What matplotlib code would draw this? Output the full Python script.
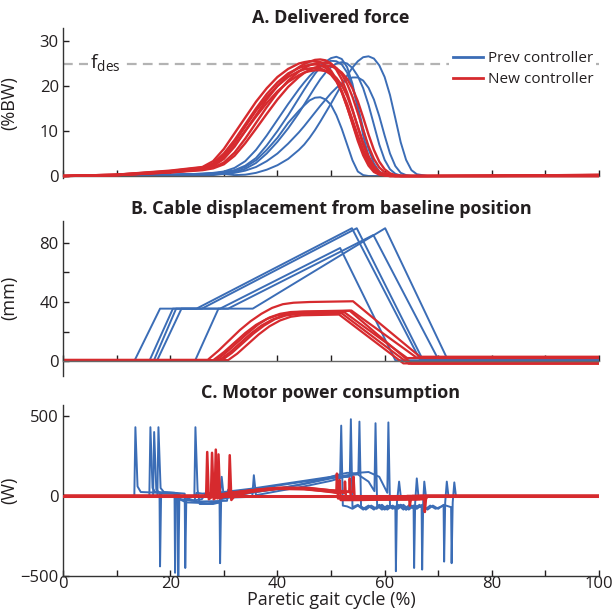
import numpy as np
import matplotlib.pyplot as plt

plt.rcParams['font.family'] = ['Open Sans', 'DejaVu Sans']
plt.rcParams['lines.scale_dashes'] = False

BLUE = '#3b6db6'
RED = '#d62a2e'
INK = '#231f20'

# ---- A. delivered force (%BW), sampled on a shared gait-cycle grid ----
gait_a = [0, 10, 20, 26, 28, 30, 32, 34, 36, 38, 40, 42, 44, 45, 46, 47, 48, 49, 50, 51,
          52, 53, 54, 55, 56, 57, 58, 59, 60, 61, 62, 63, 64, 65, 66, 68, 80, 100]

force_prev = [
    [0, 0.1, 0.3, 0.5, 0.6, 0.8, 1.2, 2.0, 3.5, 5.8, 8.5, 11.8, 14.5, 15.7, 16.8, 17.4, 17.5, 17.0, 15.8, 13.5,
     10.5, 7.0, 3.5, 1.0, 0.2, 0, 0, 0, 0, 0, 0, 0, 0, 0, 0, 0, 0, 0],
    [0, 0.1, 0.3, 0.5, 0.6, 0.8, 1.3, 2.3, 4.0, 6.8, 10.0, 13.5, 17.3, 19.2, 21.0, 22.7, 24.2, 25.4, 26.2, 26.5,
     26.0, 24.2, 20.5, 15.0, 9.0, 4.3, 1.5, 0.4, 0.1, 0, 0, 0, 0, 0, 0, 0, 0, 0],
    [0, 0.1, 0.3, 0.5, 0.7, 1.0, 1.8, 3.3, 5.8, 9.0, 12.5, 16.0, 19.3, 20.8, 22.2, 23.4, 24.5, 25.2, 25.6, 25.5,
     24.8, 23.0, 19.8, 15.5, 10.5, 6.0, 2.8, 1.0, 0.3, 0, 0, 0, 0, 0, 0, 0, 0, 0],
    [0, 0.1, 0.2, 0.4, 0.5, 0.6, 0.9, 1.6, 2.9, 5.0, 7.6, 10.6, 14.0, 15.9, 17.8, 19.7, 21.5, 23.0, 24.2, 25.0,
     25.3, 25.0, 24.0, 22.2, 19.5, 15.8, 11.4, 7.0, 3.6, 1.5, 0.5, 0.1, 0, 0, 0, 0, 0, 0],
    [0, 0.1, 0.2, 0.3, 0.4, 0.5, 0.7, 1.2, 2.0, 3.3, 5.0, 7.2, 9.7, 11.1, 12.6, 14.1, 15.6, 17.0, 18.4, 19.6,
     20.6, 21.4, 21.9, 21.9, 21.2, 19.6, 17.0, 13.3, 9.0, 5.0, 2.2, 0.7, 0.2, 0, 0, 0, 0, 0],
    [0, 0.1, 0.2, 0.2, 0.2, 0.5, 0.2, 0.3, 0.7, 1.4, 2.4, 3.8, 5.8, 7.0, 8.5, 10.2, 12.1, 14.1, 16.1, 18.2,
     20.3, 22.3, 24.1, 25.5, 26.4, 26.6, 26.1, 24.6, 22.0, 18.0, 12.8, 7.5, 3.6, 1.3, 0.4, 0, 0, 0],
]

force_new = [
    [0, 0.3, 1.0, 1.8, 2.8, 5.0, 8.0, 11.5, 15.0, 18.2, 20.8, 22.8, 24.0, 24.4, 24.7, 24.8, 24.6, 24.0, 23.0, 21.2,
     18.6, 15.3, 11.8, 8.3, 5.2, 2.8, 1.3, 0.5, 0.2, 0, 0, 0, 0, 0, 0, 0, 0.1, 0.2],
    [0, 0.2, 0.9, 1.6, 2.2, 3.8, 6.5, 10.0, 13.5, 17.0, 20.0, 22.5, 24.2, 24.9, 25.4, 25.8, 25.9, 25.7, 25.0, 23.6,
     21.5, 18.5, 14.8, 10.8, 7.0, 4.0, 2.0, 0.8, 0.3, 0.1, 0, 0, 0, 0, 0, 0, 0, 0.3],
    [0, 0.2, 0.8, 1.5, 2.5, 4.5, 7.5, 11.0, 14.5, 17.5, 20.0, 22.0, 23.3, 23.7, 23.9, 24.0, 23.9, 23.4, 22.5, 21.0,
     18.8, 16.0, 12.5, 9.0, 5.8, 3.2, 1.5, 0.6, 0.2, 0, 0, 0, 0, 0, 0, 0, 0, 0],
    [0, 0.2, 0.9, 1.4, 1.9, 3.0, 5.2, 8.3, 11.8, 15.3, 18.5, 21.2, 23.2, 24.0, 24.6, 25.0, 25.2, 25.2, 24.9, 24.0,
     22.6, 20.5, 17.6, 14.0, 10.2, 6.6, 3.8, 1.9, 0.8, 0.3, 0.1, 0, 0, 0, 0, 0, 0.1, 0.2],
    [0, 0.3, 1.1, 1.9, 2.6, 4.2, 6.8, 10.0, 13.2, 16.2, 18.8, 20.9, 22.4, 23.0, 23.3, 23.5, 23.5, 23.3, 22.8, 21.8,
     20.2, 17.8, 14.6, 11.0, 7.4, 4.4, 2.2, 0.9, 0.3, 0.1, 0, 0, 0, 0, 0, 0, 0, 0],
    [0, 0.3, 1.2, 2.0, 3.3, 6.0, 9.5, 13.0, 16.5, 19.5, 22.0, 23.8, 25.0, 25.3, 25.5, 25.5, 25.3, 24.6, 23.4, 21.5,
     18.8, 15.4, 11.6, 7.8, 4.6, 2.3, 0.9, 0.3, 0.1, 0, 0, 0, 0, 0, 0, 0, 0, 0.1],
    [0, 0.2, 0.8, 1.3, 1.7, 2.6, 4.5, 7.3, 10.5, 13.8, 17.0, 19.8, 22.0, 22.9, 23.6, 24.1, 24.4, 24.5, 24.4, 23.9,
     23.0, 21.6, 19.5, 16.6, 13.0, 9.2, 5.8, 3.2, 1.5, 0.6, 0.2, 0, 0, 0, 0, 0, 0, 0],
]
f_des = 25

# ---- B. cable displacement (mm), (gait %, mm) breakpoints ----
disp_prev = [
    [(0, 0), (13.3, 0), (18.1, 35.5), (24.9, 35.5), (53.9, 90), (66.6, 0.8), (100, 0.8)],
    [(0, 0), (16.1, 0), (20.5, 35.5), (25.9, 35.5), (54.8, 90), (67.2, 0.3), (100, 0.3)],
    [(0, 0), (16.9, 0), (21.1, 35.5), (29.3, 35.5), (51.7, 76.6), (62.0, 0.5), (100, 0.5)],
    [(0, 0), (17.5, 0), (22.1, 35.5), (30.8, 35.5), (57.9, 85.4), (70.0, 1.2), (100, 1.2)],
    [(0, 0), (24.6, 0), (29.0, 35.5), (35.4, 35.5), (60.1, 90), (71.8, 0.6), (100, 0.6)],
]
disp_new = [
    [(0, 0.8), (27.0, 0.8), (29, 7), (31, 14), (33, 21), (35, 27), (37, 32), (39, 36), (41, 38.5),
     (43, 39.5), (46, 40), (54.1, 40.5), (66.6, 2.9), (100, 2.9)],
    [(0, 0.5), (28.0, 0.5), (30, 6), (32, 12.5), (34, 19), (36, 24.5), (38, 28.5), (40, 31), (42, 32.5),
     (44, 33.2), (52, 33.8), (53.5, 34), (65.0, -1.6), (100, -1.6)],
    [(0, 0.3), (29.0, 0.3), (31, 5.5), (33, 12), (35, 18.5), (37, 24), (39, 28), (41, 30.8), (43, 32.2),
     (45, 32.8), (52.5, 33), (64.2, 2.0), (100, 2.0)],
    [(0, 0.6), (30.8, 0.6), (32.5, 5), (34.5, 11.5), (36.5, 18), (38.5, 23.5), (40.5, 27.5), (42.5, 30),
     (44.5, 31), (51.5, 31.5), (63.5, -1.6), (100, -1.6)],
    [(0, 0.4), (28.5, 0.4), (30.5, 6), (32.5, 12.5), (34.5, 19), (36.5, 25), (38.5, 29.5), (40.5, 32),
     (42.5, 33.2), (45, 33.6), (53.8, 34.2), (66.0, 2.2), (100, 2.2)],
    [(0, 0.2), (29.5, 0.2), (31.5, 5.5), (33.5, 12), (35.5, 18.5), (37.5, 24), (39.5, 28.3), (41.5, 30.8),
     (43.5, 31.8), (46, 32.2), (52.0, 32.3), (64.5, -1.8), (100, -1.8)],
]

# ---- C. motor power (W), (gait %, W) breakpoints ----
power_prev = [
    [(0, 0), (13.3, 0), (13.5, 430), (13.9, 60), (14.5, 25), (18.0, 20), (18.1, -440), (18.3, 15), (21, 15),
     (24.5, -30), (24.9, 20), (26, 15), (30, 25), (35, 45), (40, 70), (45, 95), (50, 120), (51.7, 130),
     (51.9, 440), (52.2, -60), (53, -65), (54, -80), (55, -60), (56, -85), (57, -65), (58, -80), (59, -60),
     (60, -85), (61, -65), (62.0, -70), (62.1, -470), (62.3, -40), (62.7, 90), (63.0, 0), (100, 0)],
    [(0, 0), (16.1, 0), (16.3, 430), (16.7, 50), (17.2, 25), (20.8, 20), (20.9, -480), (21.1, 10), (22, -20),
     (24, -30), (25.9, -20), (26.5, 10), (30, 20), (35, 40), (40, 65), (45, 90), (50, 115), (53.5, 120),
     (53.7, 480), (54, -70), (55, -55), (56, -80), (57, -60), (58, -85), (59, -55), (60, -80), (61, -60),
     (62, -75), (63, -55), (64, -85), (65.4, -60), (65.5, -450), (65.7, -40), (66.0, 110), (66.3, 0), (100, 0)],
    [(0, 0), (16.8, 0), (17.0, 400), (17.4, 40), (18, 20), (21.4, 15), (21.5, -510), (21.7, -20), (23, -40),
     (27, -45), (29.2, -40), (29.6, 120), (30, -10), (33, 10), (36, 25), (40, 45), (44, 70), (48, 100),
     (51, 130), (53, 145), (55.1, 140), (55.3, 465), (55.6, -65), (56.5, -85), (57.5, -60), (58.5, -80),
     (59.5, -55), (60.5, -85), (61.5, -60), (62.5, -80), (63.5, -55), (64.5, -85), (65.5, -60), (66.9, -70),
     (67.0, -460), (67.2, -30), (67.4, 90), (67.7, 0), (100, 0)],
    [(0, 0), (17.6, 0), (17.8, 430), (18.2, 50), (18.8, 25), (22.7, 15), (22.8, -450), (23.0, -20), (25, -35),
     (30.6, -30), (30.8, 40), (31.2, 0), (35, 20), (40, 45), (45, 75), (50, 110), (53, 130), (55, 135),
     (57, 90), (58.1, 30), (58.3, 455), (58.6, -60), (59.5, -85), (60.5, -60), (61.5, -80), (62.5, -55),
     (63.5, -85), (64.5, -60), (65.5, -80), (66.5, -55), (67.5, -85), (68.5, -60), (69.5, -80), (71.0, -60),
     (71.1, -410), (71.3, -40), (71.6, 90), (71.9, 0), (100, 0)],
    [(0, 0), (24.5, 0), (24.7, 430), (25.1, 40), (25.5, -50), (28, -50), (29.2, -40), (29.3, -420),
     (29.5, -20), (31, -10), (35.3, -5), (35.6, 130), (36, 5), (40, 30), (45, 60), (50, 95), (53, 125),
     (55, 145), (57, 150), (59, 120), (60.5, 20), (60.7, 460), (61, -60), (62, -80), (63, -55), (64, -85),
     (65, -60), (66, -80), (67, -55), (68, -85), (69, -60), (70, -80), (71, -55), (72.4, -70), (72.5, -420),
     (72.7, -40), (73.0, 85), (73.3, 0), (100, 0)],
]
power_new = [
    [(0, 0), (26.7, 0), (26.9, 275), (27.2, -20), (28, 0), (31, 20), (35, 35), (40, 48), (45, 45), (50, 25),
     (51.0, 20), (51.1, 140), (51.3, -15), (55, -20), (60, -20), (64.6, -20), (64.7, -60), (64.9, -20),
     (66, -20), (66.2, 0), (100, 0)],
    [(0, 0), (27.6, 0), (27.8, 270), (28.1, -20), (29, 0), (32, 20), (36, 38), (40, 50), (45, 48), (50, 30),
     (52.5, 20), (52.6, 90), (52.8, -20), (60, -20), (67.4, -20), (67.5, -100), (67.7, -20), (68, 0), (100, 0)],
    [(0, 0), (28.3, 0), (28.5, 290), (28.8, -15), (30, 5), (33, 25), (37, 42), (41, 52), (46, 50), (50, 35),
     (53.4, 25), (53.5, 110), (53.7, -15), (60, -15), (65, -15), (65.2, 0), (100, 0)],
    [(0, 0), (28.8, 0), (29.0, 260), (29.3, -15), (31, 10), (35, 30), (40, 45), (45, 42), (50, 28),
     (51.5, 20), (51.6, 100), (51.8, -25), (55, -25), (62, -20), (64, -20), (64.2, 0), (100, 0)],
    [(0, 0), (30.9, 0), (31.1, 255), (31.4, -25), (32, 0), (35, 25), (40, 45), (45, 50), (50, 35),
     (54.1, 25), (54.2, 120), (54.4, -20), (60, -20), (66.5, -20), (66.7, 0), (100, 0)],
]

x_ticks = list(range(0, 101, 10))
x_labels = ['0', '', '20', '', '40', '', '60', '', '80', '', '100']


def plot_pairs(ax, pairs, color, lw):
    xy = np.array(pairs)
    ax.plot(xy[:, 0], xy[:, 1], color=color, lw=lw, solid_joinstyle='round')


def base_style(ax):
    for s in ['top', 'right']:
        ax.spines[s].set_visible(False)
    for s in ['left', 'bottom']:
        ax.spines[s].set_linewidth(1.0)
        ax.spines[s].set_color('#333333')
    ax.set_xlim(0, 100)
    ax.set_xticks(x_ticks)
    ax.tick_params(direction='in', length=4, width=1, labelsize=12, colors=INK, pad=3)


fig = plt.figure(figsize=(6.12, 6.14), dpi=100)
left, width = 0.103, 0.8758

# ---------- A ----------
axA = fig.add_axes([left, 0.7104, width, 0.2448])
base_style(axA)
axA.set_ylim(-0.4, 33)
axA.spines['bottom'].set_position(('data', 0))
axA.spines['bottom'].set_color('#555555')
axA.set_xticklabels([])
axA.set_yticks([0, 10, 20, 30])
axA.axhline(f_des, color='#b3b3b3', lw=1.6, dashes=(7, 4.5), zorder=1)
for y in force_prev:
    axA.plot(gait_a, y, color=BLUE, lw=1.4, zorder=2)
for y in force_new:
    axA.plot(gait_a, y, color=RED, lw=1.7, zorder=3)
axA.text(5.0, f_des, r'f$_{\mathregular{des}}$', fontsize=14, color=INK, va='center', ha='left',
         bbox=dict(facecolor='white', edgecolor='none', pad=1), zorder=4)
hp, = axA.plot([], [], color=BLUE, lw=2)
hn, = axA.plot([], [], color=RED, lw=2)
leg = axA.legend([hp, hn], ['Prev controller', 'New controller'], loc='upper right',
                 bbox_to_anchor=(0.995, 0.865), fontsize=11, handlelength=2.0, handletextpad=0.3,
                 labelspacing=0.42, borderpad=0.2, borderaxespad=0, frameon=True, fancybox=False)
leg.get_frame().set_facecolor('white')
leg.get_frame().set_edgecolor('none')
leg.get_frame().set_alpha(1)
leg.set_zorder(5)
for t in leg.get_texts():
    t.set_color(INK)
axA.set_ylabel('(%BW)', fontsize=13, color=INK)
axA.yaxis.set_label_coords(-0.084, 0.5)
axA.set_title('A. Delivered force', fontsize=13, fontweight='bold', color=INK, pad=3)

# ---------- B ----------
axB = fig.add_axes([left, 0.388, width, 0.2523])
base_style(axB)
axB.set_ylim(-10, 95)
axB.spines['bottom'].set_position(('data', 0))
axB.spines['bottom'].set_color('#666666')
axB.set_xticklabels([])
axB.set_yticks([0, 20, 40, 60, 80])
axB.set_yticklabels(['0', '', '40', '', '80'])
for p in disp_prev:
    plot_pairs(axB, p, BLUE, 1.4)
for p in disp_new:
    plot_pairs(axB, p, RED, 1.6)
axB.set_ylabel('(mm)', fontsize=13, color=INK)
axB.yaxis.set_label_coords(-0.084, 0.5)
axB.set_title('B. Cable displacement from baseline position', fontsize=13, fontweight='bold',
              color=INK, pad=5)

# ---------- C ----------
axC = fig.add_axes([left, 0.0619, width, 0.2788])
base_style(axC)
axC.set_ylim(-500, 570)
axC.set_yticks([-500, 0, 500])
axC.set_xticklabels(x_labels)
axC.tick_params(axis='x', pad=0)
for p in power_prev:
    plot_pairs(axC, p, BLUE, 1.4)
for p in power_new:
    plot_pairs(axC, p, RED, 1.8)
axC.axhline(0, color=RED, lw=2.2, zorder=3)
axC.set_ylabel('(W)', fontsize=13, color=INK)
axC.yaxis.set_label_coords(-0.084, 0.5)
axC.set_xlabel('Paretic gait cycle (%)', fontsize=13, color=INK, labelpad=-1)
axC.set_title('C. Motor power consumption', fontsize=13, fontweight='bold', color=INK, pad=5)

fig.savefig('out.png', dpi=100)
